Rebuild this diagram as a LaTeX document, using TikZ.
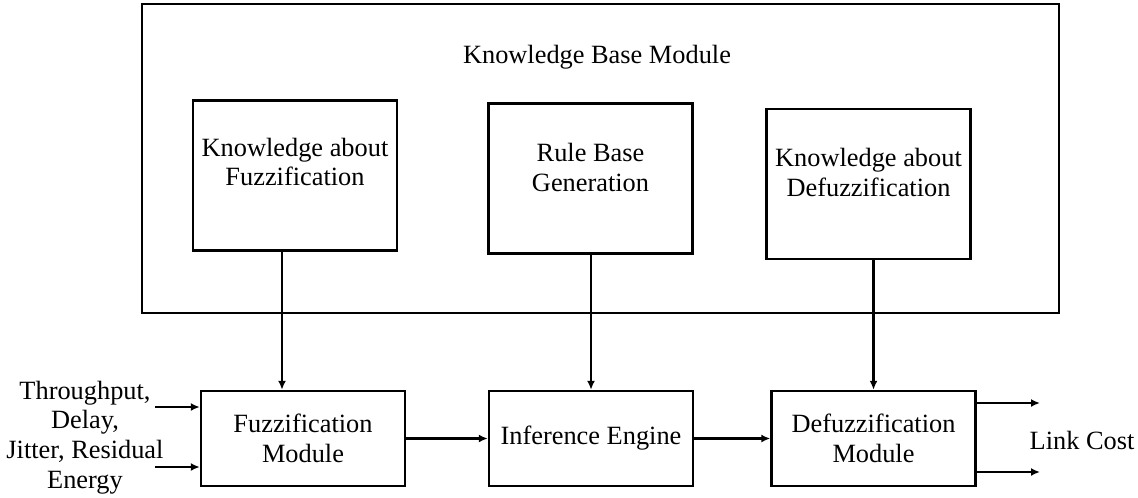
\documentclass[tikz,border=0pt]{standalone}
\usepackage{fontspec}
\setmainfont{Liberation Serif}
\usetikzlibrary{arrows.meta,calc,positioning}
\tikzset{
  box/.style={draw, line width=1.4pt, minimum width=4.08cm, inner sep=0pt},
  topbox/.style={box, minimum height=3cm},
  modbox/.style={box, minimum height=1.9cm, align=center},
  txt/.style={align=center, inner sep=0pt},
  arr/.style={line width=1.4pt, -{Latex[length=1.8mm,width=1.6mm]}}
}

\begin{document}
\begin{tikzpicture}[x=0.02cm, y=-0.02cm, font=\fontsize{15}{17}\selectfont]

  % cadre de la figure
  \useasboundingbox (0,0) rectangle (1138,497);

  % bloc de la base de connaissances
  \draw[line width=1.4pt] (142,4) rectangle (1059,313);
  \node[txt] (kbm) at (597,57) {Knowledge Base Module};

  % les trois sous-blocs
  \node[topbox] (kf) at (295,175.5) {};
  \node[txt] (kftext) at (295,162) {Knowledge about\\Fuzzification};
  \node[topbox] (rb) at (590.5,178.5) {};
  \node[txt] (rbtext) at (590.5,167.5) {Rule Base\\Generation};
  \node[topbox] (kd) at (868.5,184) {};
  \node[txt] (kdtext) at (868.5,172.5) {Knowledge about\\Defuzzification};

  % chaine de traitement
  \node[modbox] (fm) at (303,438.5) {Fuzzification\\Module};
  \node[modbox] (ie) at (591,438.5) {Inference Engine};
  \node[modbox] (dm) at (873.5,438.5) {Defuzzification\\Module};

  % entrees et sorties
  \node[txt] (inputs) at (85,437.5) {Throughput,\\Delay,\\Jitter, Residual\\Energy};
  \node[txt] (cost) at (1082,440) {Link Cost};
  \coordinate (kfout) at ($(kf.south)+(-13,0)$);
  \coordinate (in1) at (155,407);
  \coordinate (in2) at (155,467);
  \coordinate (out1) at (1040,403);
  \coordinate (out2) at (1040,472);

  % fleches
  \draw[arr] (kfout) -- (kfout |- fm.north);
  \draw[arr] (rb.south -| ie.north) -- (ie.north);
  \draw[arr] (kd.south -| dm.north) -- (dm.north);
  \draw[arr] (fm) -- (ie);
  \draw[arr] (ie) -- (dm);
  \draw[arr] (in1) -- (in1 -| fm.west);
  \draw[arr] (in2) -- (in2 -| fm.west);
  \draw[arr] (out1 -| dm.east) -- (out1);
  \draw[arr] (out2 -| dm.east) -- (out2);

\end{tikzpicture}
\end{document}
